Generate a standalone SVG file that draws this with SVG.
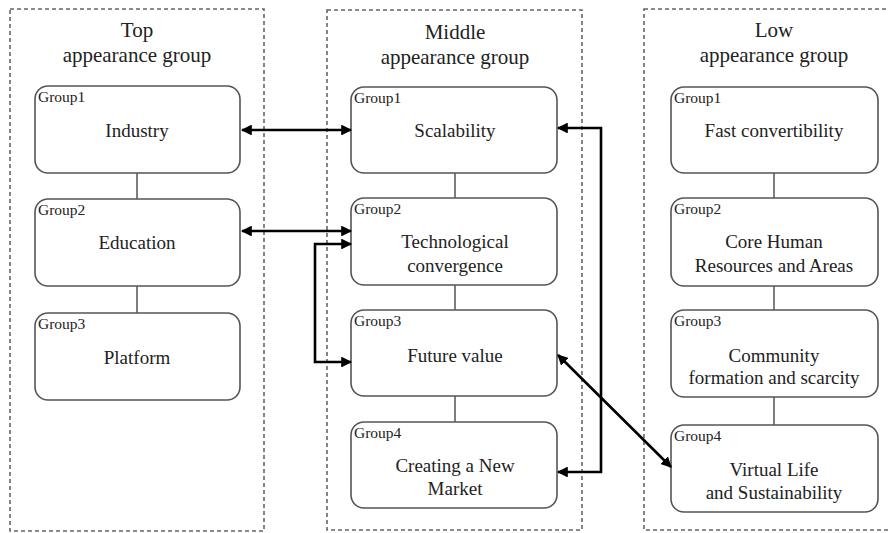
<svg xmlns="http://www.w3.org/2000/svg" width="888" height="533" viewBox="0 0 888 533">
<style>
.panel{fill:none;stroke:#666;stroke-width:1.6;stroke-dasharray:4,3}
.box{fill:#fff;stroke:#555;stroke-width:1.6}
.link{stroke:#555;stroke-width:1.5}
.arr{fill:none;stroke:#000;stroke-width:2.6}
text{font-family:'Liberation Serif','DejaVu Serif','Times New Roman',serif;fill:#222}
.t{text-anchor:middle}
.title{font-size:21px}
.lbl{font-size:19px}
.g{font-size:15.5px}
</style>
<defs>
<marker id="ah" viewBox="0 0 10 10" refX="9" refY="5" markerWidth="4.2" markerHeight="4.2" orient="auto-start-reverse" markerUnits="strokeWidth">
<path d="M0,0 L10,5 L0,10 z" fill="#000"/>
</marker>
</defs>
<rect width="888" height="533" fill="#fff"/>

<g id="panels">
<rect class="panel" x="10" y="9" width="254" height="522"/>
<rect class="panel" x="327" y="10" width="255" height="520"/>
<rect class="panel" x="644" y="9" width="250" height="521"/>
<text class="t title" x="137" y="37">Top</text>
<text class="t title" x="137" y="62">appearance group</text>
<text class="t title" x="455" y="39">Middle</text>
<text class="t title" x="455" y="64">appearance group</text>
<text class="t title" x="774" y="37">Low</text>
<text class="t title" x="774" y="62">appearance group</text>
</g>

<g id="links">
<line class="link" x1="137" y1="173" x2="137" y2="199"/>
<line class="link" x1="137" y1="286" x2="137" y2="313"/>
<line class="link" x1="455" y1="173" x2="455" y2="198"/>
<line class="link" x1="455" y1="285" x2="455" y2="310"/>
<line class="link" x1="455" y1="396" x2="455" y2="422"/>
<line class="link" x1="774" y1="173" x2="774" y2="198"/>
<line class="link" x1="774" y1="286" x2="774" y2="310"/>
<line class="link" x1="774" y1="397" x2="774" y2="425"/>
</g>

<g id="top-g1"><rect class="box" x="35" y="86" width="205" height="87" rx="13"/><text class="g" x="38" y="102">Group1</text><text class="t lbl" x="137" y="137">Industry</text></g>
<g id="top-g2"><rect class="box" x="35" y="199" width="205" height="87" rx="13"/><text class="g" x="38" y="215">Group2</text><text class="t lbl" x="137" y="249">Education</text></g>
<g id="top-g3"><rect class="box" x="35" y="313" width="205" height="87" rx="13"/><text class="g" x="38" y="329">Group3</text><text class="t lbl" x="137" y="364">Platform</text></g>

<g id="mid-g1"><rect class="box" x="351" y="87" width="206" height="86" rx="13"/><text class="g" x="354" y="103">Group1</text><text class="t lbl" x="455" y="137">Scalability</text></g>
<g id="mid-g2"><rect class="box" x="351" y="198" width="206" height="87" rx="13"/><text class="g" x="354" y="214">Group2</text><text class="t lbl" x="455" y="248">Technological</text><text class="t lbl" x="455" y="272">convergence</text></g>
<g id="mid-g3"><rect class="box" x="351" y="310" width="206" height="86" rx="13"/><text class="g" x="354" y="326">Group3</text><text class="t lbl" x="455" y="362">Future value</text></g>
<g id="mid-g4"><rect class="box" x="351" y="422" width="206" height="86" rx="13"/><text class="g" x="354" y="438">Group4</text><text class="t lbl" x="455" y="472">Creating a New</text><text class="t lbl" x="455" y="495">Market</text></g>

<g id="low-g1"><rect class="box" x="671" y="87" width="207" height="86" rx="13"/><text class="g" x="674" y="103">Group1</text><text class="t lbl" x="774" y="137">Fast convertibility</text></g>
<g id="low-g2"><rect class="box" x="671" y="198" width="207" height="88" rx="13"/><text class="g" x="674" y="214">Group2</text><text class="t lbl" x="774" y="248">Core Human</text><text class="t lbl" x="774" y="272">Resources and Areas</text></g>
<g id="low-g3"><rect class="box" x="671" y="310" width="207" height="87" rx="13"/><text class="g" x="674" y="326">Group3</text><text class="t lbl" x="774" y="362">Community</text><text class="t lbl" x="774" y="384">formation and scarcity</text></g>
<g id="low-g4"><rect class="box" x="671" y="425" width="207" height="87" rx="13"/><text class="g" x="674" y="441">Group4</text><text class="t lbl" x="774" y="476">Virtual Life</text><text class="t lbl" x="774" y="499">and Sustainability</text></g>

<g id="connectors">
<line class="arr" x1="242" y1="130" x2="351" y2="130" marker-start="url(#ah)" marker-end="url(#ah)"/>
<line class="arr" x1="242" y1="231" x2="351" y2="231" marker-start="url(#ah)" marker-end="url(#ah)"/>
<polyline class="arr" points="351,244 315,244 315,362 351,362" marker-start="url(#ah)" marker-end="url(#ah)"/>
<polyline class="arr" points="558,128 601,128 601,472 558,472" marker-start="url(#ah)" marker-end="url(#ah)"/>
<line class="arr" x1="558" y1="355" x2="671" y2="467" marker-start="url(#ah)" marker-end="url(#ah)"/>
</g>
</svg>
